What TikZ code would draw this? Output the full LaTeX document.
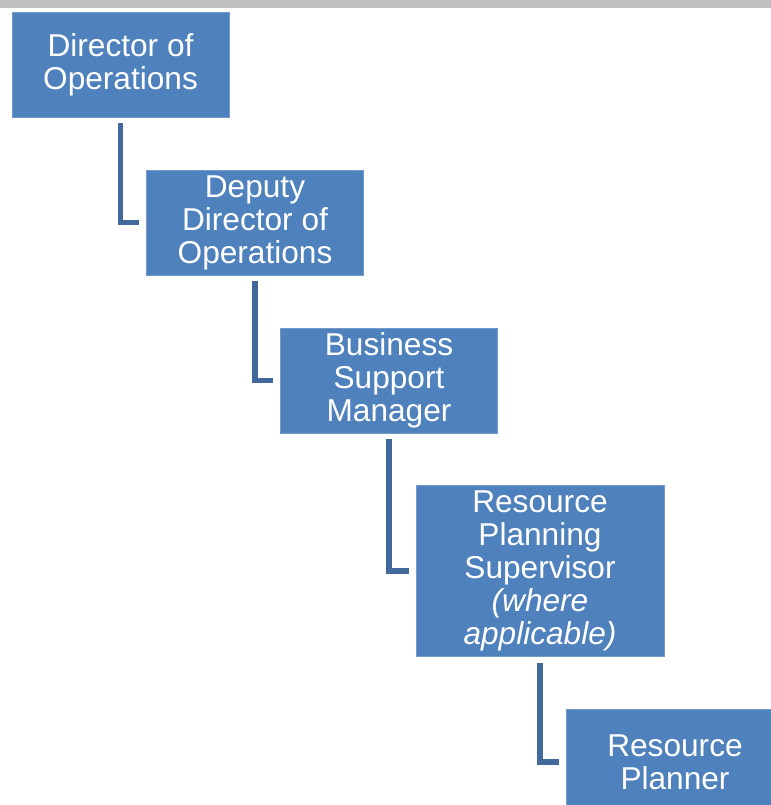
\documentclass[tikz,border=0pt]{standalone}
\usepackage{fontspec}
\setmainfont{Liberation Sans}
\usepackage{tikz}
\usetikzlibrary{positioning}
\usepackage{xcolor}

\definecolor{boxblue}{HTML}{4F81BD}
\definecolor{linkblue}{HTML}{41699C}

\begin{document}
\begin{tikzpicture}[
  x=0.02cm, y=-0.02cm,
  every node/.style={font=\fontsize{18}{18.8}\selectfont},
  role/.style={rectangle, fill=boxblue, draw=boxblue!80!white, line width=0.4pt,
               text=white, align=center, inner sep=0pt,
               minimum width=4.34cm, minimum height=2.1cm},
  link/.style={draw=linkblue, line width=3.4pt,
               shorten <=3.4pt, shorten >=4pt}
]
  \useasboundingbox (0,0) rectangle (771,805);
  \fill[gray!50] (0,0) rectangle (771,8);

  \node[role] (dir) at (120.5, 64.5) {Director of\\Operations};
  \node[role] (dep) at (255, 222.5)  {Deputy\\Director of\\Operations};
  \node[role] (bsm) at (389, 380.5)  {Business\\Support\\Manager};
  \node[role, minimum width=4.96cm, minimum height=3.42cm]
        (rps) at (540, 571) {Resource\\Planning\\Supervisor\\\textit{(where}\\\textit{applicable)}};
  \node[role] (rp)  at (675, 762)  {Resource\\Planner};

  \draw[link] (dir.south) |- (dep.west);
  \draw[link] (dep.south) |- (bsm.west);
  \draw[link] (bsm.south) |- (rps.west);
  \draw[link] (rps.south) |- (rp.west);
\end{tikzpicture}
\end{document}
